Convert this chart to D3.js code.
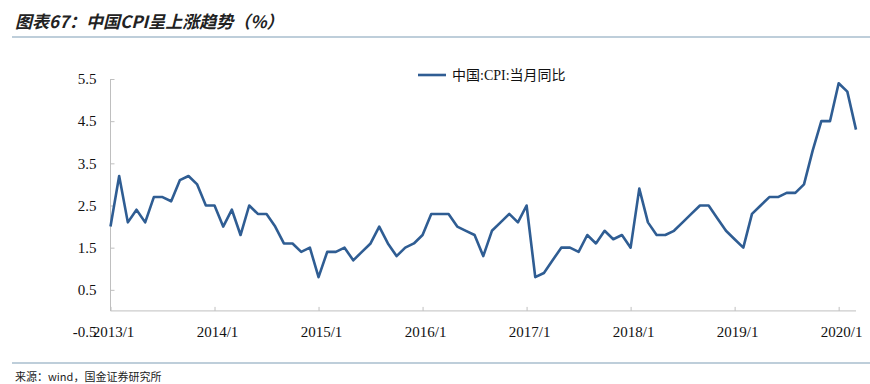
<!DOCTYPE html>
<html>
<head>
<meta charset="utf-8">
<script src="https://cdn.jsdelivr.net/npm/d3@7"></script>
<style>
  body { margin: 0; background: #fff; }
  svg { display: block; }
</style>
</head>
<body>
<div id="chart"></div>
<script>
// monthly CPI yoy, 2013/1 .. 2020/3
const months = [];
for (let y = 2013; y <= 2020; y++) {
  for (let m = 1; m <= 12; m++) {
    if (y === 2020 && m > 3) break;
    months.push(`${y}/${m}`);
  }
}
const cpi = [
  2.0, 3.2, 2.1, 2.4, 2.1, 2.7, 2.7, 2.6, 3.1, 3.2, 3.0, 2.5,
  2.5, 2.0, 2.4, 1.8, 2.5, 2.3, 2.3, 2.0, 1.6, 1.6, 1.4, 1.5,
  0.8, 1.4, 1.4, 1.5, 1.2, 1.4, 1.6, 2.0, 1.6, 1.3, 1.5, 1.6,
  1.8, 2.3, 2.3, 2.3, 2.0, 1.9, 1.8, 1.3, 1.9, 2.1, 2.3, 2.1,
  2.5, 0.8, 0.9, 1.2, 1.5, 1.5, 1.4, 1.8, 1.6, 1.9, 1.7, 1.8,
  1.5, 2.9, 2.1, 1.8, 1.8, 1.9, 2.1, 2.3, 2.5, 2.5, 2.2, 1.9,
  1.7, 1.5, 2.3, 2.5, 2.7, 2.7, 2.8, 2.8, 3.0, 3.8, 4.5, 4.5,
  5.4, 5.2, 4.3
];
const yTicks = [-0.5, 0.5, 1.5, 2.5, 3.5, 4.5, 5.5];
const xTickLabels = ["2013/1", "2014/1", "2015/1", "2016/1", "2017/1", "2018/1", "2019/1", "2020/1"];
const seriesName = "中国:CPI:当月同比";

const width = 870, height = 384;
const svg = d3.select("#chart").append("svg")
  .attr("width", width).attr("height", height);

const x = d3.scalePoint().domain(months).range([110.5, 856]);
const y = d3.scaleLinear().domain([-0.5, 5.5]).range([332, 79]);

const serif = "'Liberation Serif', 'Times New Roman', serif";
const cjk = "'Liberation Serif', 'Noto Sans CJK SC', serif";

// title
svg.append("text")
  .attr("x", 15).attr("y", 28)
  .attr("fill", "#222")
  .style("font-family", "'Noto Sans CJK SC', sans-serif")
  .style("font-size", "17px")
  .style("font-style", "italic")
  .style("font-weight", "bold")
  .text("图表67：中国CPI呈上涨趋势（%）");

svg.append("line")
  .attr("x1", 12).attr("x2", 870).attr("y1", 37).attr("y2", 37)
  .attr("stroke", "#7f9db5").attr("stroke-width", 1.2);

// y axis
const yAxis = svg.append("g")
  .attr("transform", `translate(${x.range()[0]},0)`)
  .call(d3.axisRight(y).tickValues(yTicks).tickSize(4).tickFormat(d => d.toFixed(1)));
yAxis.select(".domain").remove();
yAxis.selectAll(".tick line").attr("stroke", "#bfbfbf");
yAxis.selectAll(".tick text")
  .attr("x", -14).attr("text-anchor", "end")
  .attr("fill", "#111")
  .style("font-family", serif).style("font-size", "15px");
yAxis.selectAll(".tick").filter(d => d < 0).select("line").remove();
yAxis.append("line")
  .attr("x1", 0).attr("x2", 0).attr("y1", y(5.5)).attr("y2", y(0))
  .attr("stroke", "#bfbfbf");

// x axis at zero, labels at the bottom
const xAxis = svg.append("g")
  .attr("transform", `translate(0,${y(0)})`)
  .call(d3.axisTop(x).tickValues(xTickLabels).tickSize(4).tickFormat(""));
xAxis.select(".domain").attr("stroke", "#bfbfbf").attr("d", `M${x.range()[0]},0H${x.range()[1]}`);
xAxis.selectAll(".tick line").attr("stroke", "#bfbfbf");

svg.append("g")
  .selectAll("text")
  .data(xTickLabels)
  .join("text")
  .attr("x", d => x(d) + 3)
  .attr("y", 337)
  .attr("text-anchor", "middle")
  .attr("fill", "#111")
  .style("font-family", serif).style("font-size", "15px")
  .text(d => d);

// line
const line = d3.line()
  .x((d, i) => x(months[i]))
  .y(d => y(d));

svg.append("path")
  .datum(cpi)
  .attr("fill", "none")
  .attr("stroke", "#2f5d93")
  .attr("stroke-width", 2.6)
  .attr("stroke-linejoin", "round")
  .attr("d", line);

// legend
svg.append("line")
  .attr("x1", 418).attr("x2", 446).attr("y1", 75).attr("y2", 75)
  .attr("stroke", "#2f5d93").attr("stroke-width", 2.6);
svg.append("text")
  .attr("x", 452).attr("y", 80)
  .attr("fill", "#111")
  .style("font-family", cjk).style("font-size", "14px")
  .text(seriesName);

// footer
svg.append("line")
  .attr("x1", 12).attr("x2", 870).attr("y1", 363).attr("y2", 363)
  .attr("stroke", "#7f9db5").attr("stroke-width", 1.2);
svg.append("text")
  .attr("x", 15).attr("y", 381)
  .attr("fill", "#222")
  .style("font-family", "'Noto Sans CJK SC', sans-serif")
  .style("font-size", "11px")
  .text("来源：wind，国金证券研究所");
</script>
</body>
</html>
